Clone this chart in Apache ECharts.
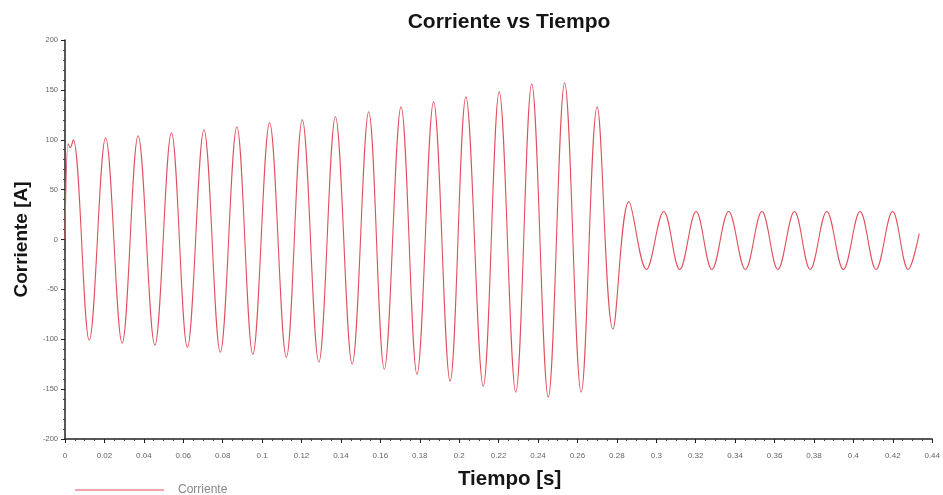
<!DOCTYPE html>
<html>
<head>
<meta charset="utf-8">
<script src="https://cdn.jsdelivr.net/npm/echarts@6/dist/echarts.min.js"></script>
<style>
    html, body { margin: 0; padding: 0; background: #fff; }
    #chart { width: 943px; height: 495px; }
</style>
</head>
<body>
<div id="chart"></div>
<script>
    // tiempo [s] de los picos y valles
    const tiempo = [
        0, 0.0016, 0.0026, 0.0042, 0.0123,
        0.0206, 0.0290, 0.0371, 0.0456, 0.0540, 0.0621,
        0.0705, 0.0788, 0.0872, 0.0953, 0.1038, 0.1123,
        0.1204, 0.1288, 0.1372, 0.1457, 0.1541, 0.1620,
        0.1705, 0.1786, 0.1870, 0.1954, 0.2034, 0.2122,
        0.2203, 0.2287, 0.2368, 0.2452, 0.2535, 0.2619,
        0.2700, 0.2780, 0.2861, 0.2950, 0.3038, 0.3119,
        0.3202, 0.3282, 0.3367, 0.3452, 0.3536, 0.3617,
        0.3701, 0.3781, 0.3865, 0.3949, 0.4034, 0.4115,
        0.4199, 0.4278, 0.4334
    ];
    // corriente [A] en esos mismos instantes
    const corriente = [
        0, 96, 92, 100, -101,
        102, -104, 104, -106, 107, -108,
        110, -113, 113, -115, 117, -118,
        120, -123, 123, -125, 128, -130,
        133, -135, 138, -142, 143, -147,
        148, -153, 156, -158, 157, -153,
        133, -90, 38, -30, 28, -30,
        28, -30, 28, -30, 28, -30,
        28, -30, 28, -30, 28, -30,
        28, -30, 6
    ];

    const myChart = echarts.init(document.getElementById('chart'));
    const font = '"Liberation Sans", Arial, sans-serif';
    const datos = tiempo.map((t, i) => [t, corriente[i]]);

    myChart.setOption({
        animation: false,
        title: {
            text: 'Corriente vs Tiempo',
            left: 504,
            top: 7,
            textAlign: 'center',
            textStyle: { fontFamily: font, fontSize: 21, fontWeight: 'bold', color: '#151515' }
        },
        legend: {
            left: 70,
            top: 479,
            icon: 'rect',
            itemWidth: 89,
            itemHeight: 1,
            textStyle: { fontFamily: font, fontSize: 12, color: '#888', padding: [0, 0, 0, 9] },
            data: ['Corriente']
        },
        grid: { left: 65, right: 9, top: 40, bottom: 55 },
        xAxis: {
            type: 'value',
            min: 0,
            max: 0.44,
            interval: 0.02,
            name: 'Tiempo [s]',
            nameLocation: 'middle',
            nameGap: 30,
            nameTextStyle: { fontFamily: font, fontSize: 20.5, fontWeight: 'bold', color: '#151515', padding: [0, 0, 0, 22] },
            axisLine: { onZero: false, lineStyle: { color: '#222', width: 1.5 } },
            axisTick: { show: true, length: 4, lineStyle: { color: '#222' } },
            minorTick: { show: true, splitNumber: 4, length: 2, lineStyle: { color: '#444' } },
            axisLabel: {
                fontFamily: font, fontSize: 8, color: '#666', margin: 13,
                formatter: v => String(+v.toFixed(2))
            },
            splitLine: { show: false }
        },
        yAxis: {
            type: 'value',
            min: -200,
            max: 200,
            interval: 50,
            name: 'Corriente [A]',
            nameLocation: 'middle',
            nameRotate: 90,
            nameGap: 34,
            nameTextStyle: { fontFamily: font, fontSize: 19, fontWeight: 'bold', color: '#151515' },
            axisLine: { show: true, onZero: false, lineStyle: { color: '#222', width: 1.5 } },
            axisTick: { show: true, length: 4, lineStyle: { color: '#222' } },
            minorTick: { show: true, splitNumber: 5, length: 2, lineStyle: { color: '#444' } },
            axisLabel: { fontFamily: font, fontSize: 7.5, color: '#666', margin: 7 },
            splitLine: { show: false }
        },
        series: [{
            name: 'Corriente',
            type: 'line',
            data: datos,
            smooth: 0.37,
            showSymbol: false,
            symbol: 'none',
            color: '#e0505c',
            lineStyle: { width: 1.1, color: '#e0505c' }
        }]
    });
</script>
</body>
</html>
